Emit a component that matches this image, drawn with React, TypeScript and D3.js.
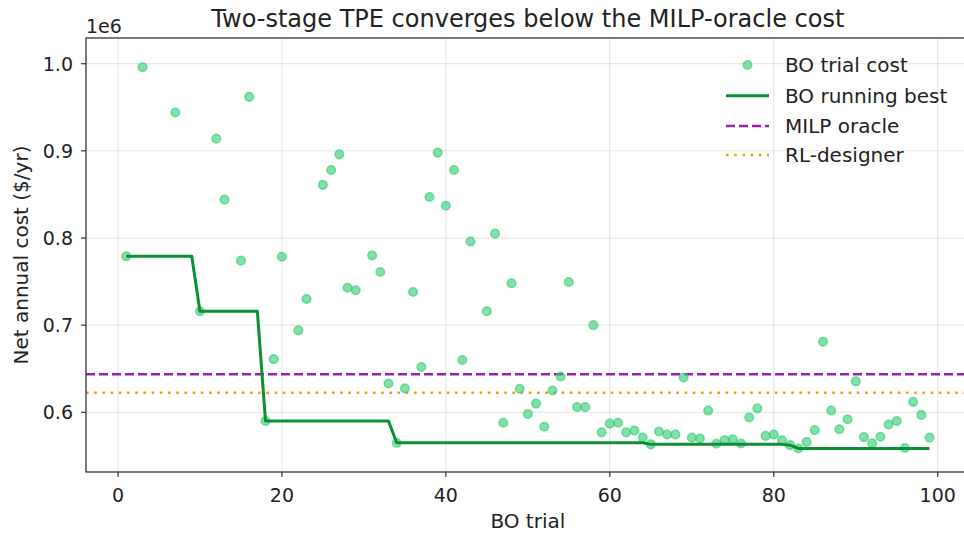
import * as d3 from "d3";

const trials = [
  1, 3, 7, 10, 12, 13, 15, 16, 18, 19, 20, 22, 23, 25, 26, 27, 28, 29, 31, 32,
  33, 34, 35, 36, 37, 38, 39, 40, 41, 42, 43, 45, 46, 47, 48, 49, 50, 51, 52,
  53, 54, 55, 56, 57, 58, 59, 60, 61, 62, 63, 64, 65, 66, 67, 68, 69, 70, 71,
  72, 73, 74, 75, 76, 77, 78, 79, 80, 81, 82, 83, 84, 85, 86, 87, 88, 89, 90,
  91, 92, 93, 94, 95, 96, 97, 98, 99,
];

const trialCost = [
  779000, 996000, 944000, 716000, 914000, 844000, 774000, 962000, 590000,
  661000, 778500, 694000, 730000, 861000, 878000, 896000, 743000, 740000,
  780000, 761000, 633000, 565000, 627500, 738000, 652000, 847000, 898000,
  837000, 878000, 660000, 796000, 716000, 805000, 588000, 748000, 627000,
  598000, 610000, 583500, 625000, 641000, 749500, 606000, 606000, 700000,
  577000, 587000, 588000, 577000, 579000, 571000, 563200, 578000, 574500,
  574500, 640000, 571000, 570000, 602000, 564000, 568000, 569000, 564200,
  594000, 604500, 573000, 574500, 568000, 562300, 558500, 566000, 579500,
  681000, 602000, 580500, 592000, 635500, 571500, 564500, 572000, 586000,
  590000, 559000, 612000, 597000, 571000,
];

const milpOracle = 643600;
const rlDesigner = 622500;

const xTicks = [0, 20, 40, 60, 80, 100];
const yTicks = [600000, 700000, 800000, 900000, 1000000];

const legendLabels = [
  "BO trial cost",
  "BO running best",
  "MILP oracle",
  "RL-designer",
];

const title = "Two-stage TPE converges below the MILP-oracle cost";

export default function App() {
  const width = 964;
  const height = 533;
  const left = 86;
  const right = 969.7;
  const top = 38;
  const bottom = 472;

  const x = d3.scaleLinear().domain([-3.9, 103.9]).range([left, right]);
  const y = d3.scaleLinear().domain([531500, 1029500]).range([bottom, top]);

  const points = trials.map((t, i) => ({ t, c: trialCost[i] }));

  // best so far over every trial index 1..99
  const allTrials = d3.range(1, 100);
  const best = allTrials.map((t) => ({
    t,
    c: d3.min(points.filter((p) => p.t <= t), (p) => p.c) as number,
  }));

  const line = d3
    .line<{ t: number; c: number }>()
    .x((d) => x(d.t))
    .y((d) => y(d.c));

  const font = "DejaVu Sans, sans-serif";
  const ink = "#222";
  const green = "#2ecc71";
  const dark = "#0d8f33";
  const purple = "#9a1fb0";
  const orange = "#f39c12";

  const legendX = 726;
  const legendRows = [65, 95.7, 126, 155];

  return (
    <svg
      width={width}
      height={height}
      style={{ position: "absolute", left: 0, top: 0, background: "#fff" }}
      fontFamily={font}
    >
      <defs>
        <clipPath id="plot">
          <rect x={left} y={top} width={right - left} height={bottom - top} />
        </clipPath>
      </defs>

      <g stroke="#b0b0b0" strokeOpacity={0.35} strokeWidth={1}>
        {xTicks.map((t) => (
          <line key={t} x1={x(t)} x2={x(t)} y1={top} y2={bottom} />
        ))}
        {yTicks.map((t) => (
          <line key={t} x1={left} x2={right} y1={y(t)} y2={y(t)} />
        ))}
      </g>

      <g clipPath="url(#plot)">
        <line
          x1={left}
          x2={right}
          y1={y(milpOracle)}
          y2={y(milpOracle)}
          stroke={purple}
          strokeWidth={2.5}
          strokeDasharray="9,4"
        />
        <line
          x1={left}
          x2={right}
          y1={y(rlDesigner)}
          y2={y(rlDesigner)}
          stroke={orange}
          strokeWidth={2.5}
          strokeDasharray="2.6,5.6"
        />
        <g>
          {points.map((p) => (
            <circle
              key={p.t}
              cx={x(p.t)}
              cy={y(p.c)}
              r={4.3}
              fill={green}
              fillOpacity={0.6}
              stroke={green}
              strokeOpacity={0.6}
              strokeWidth={1.5}
            />
          ))}
        </g>
        <path
          d={line(best) ?? ""}
          fill="none"
          stroke={dark}
          strokeWidth={3}
          strokeLinejoin="round"
        />
      </g>

      <rect
        x={left}
        y={top}
        width={right - left}
        height={bottom - top}
        fill="none"
        stroke="#333"
        strokeWidth={1.3}
      />

      <g fill={ink} fontSize={19}>
        {xTicks.map((t) => (
          <g key={t}>
            <line
              x1={x(t)}
              x2={x(t)}
              y1={bottom}
              y2={bottom + 5}
              stroke="#333"
              strokeWidth={1.2}
            />
            <text x={x(t)} y={501.5} textAnchor="middle">
              {t}
            </text>
          </g>
        ))}
        {yTicks.map((t) => (
          <g key={t}>
            <line
              x1={left - 5}
              x2={left}
              y1={y(t)}
              y2={y(t)}
              stroke="#333"
              strokeWidth={1.2}
            />
            <text
              x={left - 13}
              y={y(t)}
              textAnchor="end"
              dominantBaseline="central"
            >
              {(t / 1e6).toFixed(1)}
            </text>
          </g>
        ))}
        <text x={left} y={33}>
          1e6
        </text>
      </g>

      <text
        x={(left + right) / 2}
        y={27.3}
        textAnchor="middle"
        fontSize={24}
        fill={ink}
      >
        {title}
      </text>
      <text
        x={(left + right) / 2}
        y={528}
        textAnchor="middle"
        fontSize={20}
        fill={ink}
      >
        BO trial
      </text>
      <text
        transform={`translate(28,${(top + bottom) / 2}) rotate(-90)`}
        textAnchor="middle"
        fontSize={20}
        fill={ink}
      >
        Net annual cost ($/yr)
      </text>

      <g fontSize={20} fill={ink}>
        <circle
          cx={legendX + 21.5}
          cy={legendRows[0]}
          r={4.3}
          fill={green}
          fillOpacity={0.6}
          stroke={green}
          strokeOpacity={0.6}
          strokeWidth={1.5}
        />
        <line
          x1={legendX}
          x2={legendX + 43}
          y1={legendRows[1]}
          y2={legendRows[1]}
          stroke={dark}
          strokeWidth={3}
        />
        <line
          x1={legendX}
          x2={legendX + 43}
          y1={legendRows[2]}
          y2={legendRows[2]}
          stroke={purple}
          strokeWidth={2.5}
          strokeDasharray="9,4"
        />
        <line
          x1={legendX}
          x2={legendX + 43}
          y1={legendRows[3]}
          y2={legendRows[3]}
          stroke={orange}
          strokeWidth={2.5}
          strokeDasharray="2.6,5.6"
        />
        {legendLabels.map((l, i) => (
          <text key={l} x={785} y={legendRows[i]} dominantBaseline="central">
            {l}
          </text>
        ))}
      </g>
    </svg>
  );
}
